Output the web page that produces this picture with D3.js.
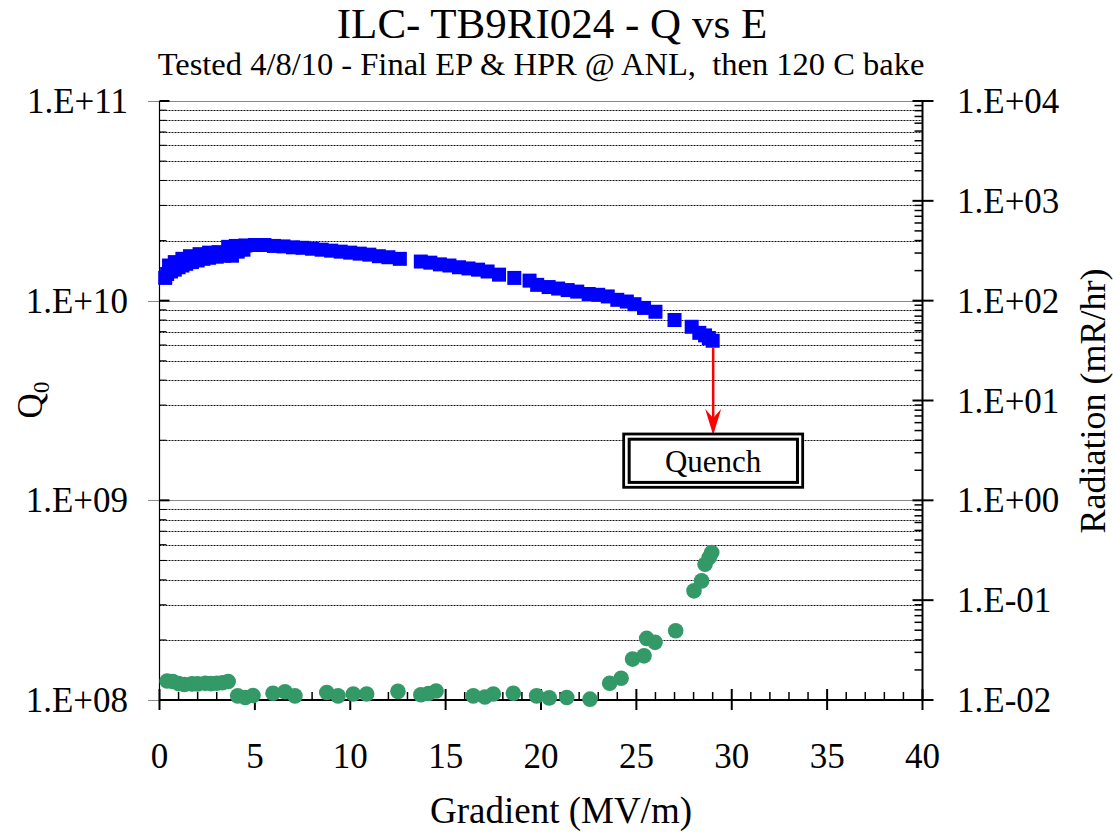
<!DOCTYPE html>
<meta charset="utf-8">
<style>

body {
  margin: 0;
  background: #fff;
}

svg {
  display: block;
  font-family: "Liberation Serif", "Times New Roman", serif;
}

.grid-minor {
  stroke: #111;
  stroke-width: 1px;
  stroke-dasharray: 2,1;
}

.grid-major {
  stroke: #888;
  stroke-width: 1px;
}

.tick-label {
  font-size: 35px;
  fill: #000;
}

</style>
<body>
<svg width="1113" height="832"></svg>
<script src="https://cdn.jsdelivr.net/npm/d3@7"></script>
<script>

// Q0 measurements (blue squares)
var qGradient = [0.3, 0.4, 0.6, 0.8, 1.0, 1.2, 1.4, 1.7, 2.0, 2.3, 2.6, 3.0, 3.4, 3.8, 4.1, 4.4,
  0.5, 0.8, 1.2, 1.6, 2.1, 2.6, 3.1, 3.6, 4.0, 4.5, 5.0, 5.5, 6.0, 6.5, 7.0, 7.5, 8.0, 8.5,
  9.0, 9.5, 10.0, 10.5, 11.0, 11.5, 12.0, 12.6, 13.7, 14.2, 14.7, 15.2, 15.7, 16.2, 16.7,
  17.2, 17.8, 18.6, 19.4, 19.8, 20.4, 20.9, 21.4, 21.9, 22.5, 23.0, 23.5, 24.0, 24.5, 24.9,
  25.4, 26.0, 27.0, 27.9, 28.3, 28.6, 28.8, 29.0];
var qValues = [1.30e10, 1.36e10, 1.40e10, 1.43e10, 1.47e10, 1.50e10, 1.53e10, 1.56e10, 1.59e10,
  1.62e10, 1.64e10, 1.66e10, 1.68e10, 1.68e10, 1.76e10, 1.80e10,
  1.50e10, 1.56e10, 1.62e10, 1.67e10, 1.71e10, 1.74e10, 1.75e10, 1.86e10, 1.88e10, 1.89e10,
  1.90e10, 1.90e10, 1.88e10, 1.87e10, 1.85e10, 1.84e10, 1.82e10, 1.80e10, 1.78e10, 1.76e10,
  1.74e10, 1.72e10, 1.70e10, 1.67e10, 1.65e10, 1.62e10, 1.57e10, 1.55e10, 1.52e10, 1.50e10,
  1.47e10, 1.45e10, 1.43e10, 1.40e10, 1.35e10, 1.30e10, 1.26e10, 1.20e10, 1.17e10, 1.15e10,
  1.13e10, 1.11e10, 1.08e10, 1.07e10, 1.05e10, 1.01e10, 9.9e9, 9.6e9, 9.2e9, 8.8e9, 8.0e9,
  7.4e9, 6.9e9, 6.7e9, 6.5e9, 6.3e9];

// radiation measurements (green circles)
var radGradient = [0.4, 0.7, 1.0, 1.3, 1.7, 2.0, 2.4, 2.7, 3.0, 3.3, 3.6, 4.1, 4.5, 4.9, 5.95,
  6.58, 7.1, 8.77, 9.36, 10.16, 10.86, 12.5, 13.7, 14.1, 14.5, 16.45, 17.06, 17.5, 18.55,
  19.77, 20.43, 21.35, 22.57, 23.6, 24.2, 24.8, 25.4, 25.54, 25.98, 27.06, 28.02, 28.42,
  28.6, 28.82, 28.95];
var radValues = [0.0155, 0.0153, 0.0146, 0.0143, 0.0145, 0.0145, 0.0147, 0.0146, 0.0147,
  0.0149, 0.0153, 0.0110, 0.0106, 0.0111, 0.0117, 0.0121, 0.0110, 0.0119, 0.0110, 0.0115,
  0.0115, 0.0122, 0.0113, 0.0116, 0.0123, 0.0110, 0.0107, 0.0115, 0.0117, 0.0110, 0.0105,
  0.0106, 0.0102, 0.0147, 0.0165, 0.0257, 0.0277, 0.0414, 0.0378, 0.0494, 0.124, 0.156,
  0.229, 0.267, 0.30];

var xTickValues = [0, 5, 10, 15, 20, 25, 30, 35, 40];
var qTickValues = [1e8, 1e9, 1e10, 1e11];
var qTickLabels = ["1.E+08", "1.E+09", "1.E+10", "1.E+11"];
var radTickValues = [1e-2, 1e-1, 1e0, 1e1, 1e2, 1e3, 1e4];
var radTickLabels = ["1.E-02", "1.E-01", "1.E+00", "1.E+01", "1.E+02", "1.E+03", "1.E+04"];

var plotLeft = 159.5, plotRight = 922.5, plotTop = 101, plotBottom = 700;

var x = d3.scaleLinear().domain([0, 40]).range([plotLeft, plotRight]);
var yQ = d3.scaleLog().domain([1e8, 1e11]).range([plotBottom, plotTop]);
var yR = d3.scaleLog().domain([1e-2, 1e4]).range([plotBottom, plotTop]);

var svg = d3.select("svg");

// titles
svg.append("text")
    .attr("x", 552).attr("y", 38)
    .attr("text-anchor", "middle")
    .style("font-size", "43px")
    .text("ILC- TB9RI024 - Q vs E");

svg.append("text")
    .attr("x", 541).attr("y", 75)
    .attr("text-anchor", "middle")
    .style("font-size", "32.5px")
    .style("white-space", "pre")
    .text("Tested 4/8/10 - Final EP & HPR @ ANL,  then 120 C bake");

// horizontal grid from the Q axis
var isMajor = function(v) { return Math.abs(Math.log10(v) - Math.round(Math.log10(v))) < 1e-9; };
var qMinor = yQ.ticks().filter(function(v) { return !isMajor(v); });

svg.append("g").selectAll("line")
    .data(qMinor)
  .enter().append("line")
    .attr("class", "grid-minor")
    .attr("x1", plotLeft).attr("x2", plotRight)
    .attr("y1", function(d) { return Math.round(yQ(d)) + 0.5; })
    .attr("y2", function(d) { return Math.round(yQ(d)) + 0.5; });

svg.append("g").selectAll("line")
    .data(qTickValues)
  .enter().append("line")
    .attr("class", "grid-major")
    .attr("x1", 148).attr("x2", plotRight)
    .attr("y1", function(d) { return Math.round(yQ(d)) + 0.5; })
    .attr("y2", function(d) { return Math.round(yQ(d)) + 0.5; });

// left axis
svg.append("line")
    .attr("x1", plotLeft).attr("x2", plotLeft)
    .attr("y1", plotTop).attr("y2", plotBottom)
    .attr("stroke", "#000").attr("stroke-width", 1.2);

svg.append("g").selectAll("line")
    .data(qMinor)
  .enter().append("line")
    .attr("x1", plotLeft).attr("x2", plotLeft + 7)
    .attr("y1", function(d) { return yQ(d); })
    .attr("y2", function(d) { return yQ(d); })
    .attr("stroke", "#000").attr("stroke-width", 1);

svg.append("g").selectAll("line")
    .data(qTickValues)
  .enter().append("line")
    .attr("x1", plotLeft).attr("x2", plotLeft + 10)
    .attr("y1", function(d) { return yQ(d); })
    .attr("y2", function(d) { return yQ(d); })
    .attr("stroke", "#000").attr("stroke-width", 2);

svg.append("g").selectAll("text")
    .data(qTickValues)
  .enter().append("text")
    .attr("class", "tick-label")
    .attr("x", 128)
    .attr("y", function(d) { return yQ(d) + 12; })
    .attr("text-anchor", "end")
    .text(function(d, i) { return qTickLabels[i]; });

// right axis (radiation)
svg.append("line")
    .attr("x1", plotRight).attr("x2", plotRight)
    .attr("y1", plotTop).attr("y2", plotBottom)
    .attr("stroke", "#000").attr("stroke-width", 2);

svg.append("g").selectAll("line")
    .data(yR.ticks().filter(function(v) { return !isMajor(v); }))
  .enter().append("line")
    .attr("x1", plotRight - 8).attr("x2", plotRight)
    .attr("y1", function(d) { return yR(d); })
    .attr("y2", function(d) { return yR(d); })
    .attr("stroke", "#000").attr("stroke-width", 1.5);

svg.append("g").selectAll("line")
    .data(radTickValues)
  .enter().append("line")
    .attr("x1", plotRight - 10).attr("x2", plotRight + 11)
    .attr("y1", function(d) { return yR(d); })
    .attr("y2", function(d) { return yR(d); })
    .attr("stroke", "#000").attr("stroke-width", 2);

svg.append("g").selectAll("text")
    .data(radTickValues)
  .enter().append("text")
    .attr("class", "tick-label")
    .attr("x", 957)
    .attr("y", function(d) { return yR(d) + 12; })
    .text(function(d, i) { return radTickLabels[i]; });

// x axis
svg.append("line")
    .attr("x1", plotLeft).attr("x2", plotRight)
    .attr("y1", plotBottom).attr("y2", plotBottom)
    .attr("stroke", "#000").attr("stroke-width", 2);

svg.append("g").selectAll("line")
    .data(d3.range(1, 40).filter(function(v) { return v % 5 != 0; }))
  .enter().append("line")
    .attr("x1", function(d) { return x(d); })
    .attr("x2", function(d) { return x(d); })
    .attr("y1", plotBottom - 8).attr("y2", plotBottom)
    .attr("stroke", "#000").attr("stroke-width", 1.5);

svg.append("g").selectAll("line")
    .data(xTickValues)
  .enter().append("line")
    .attr("x1", function(d) { return x(d); })
    .attr("x2", function(d) { return x(d); })
    .attr("y1", plotBottom - 11).attr("y2", plotBottom + 10)
    .attr("stroke", "#000").attr("stroke-width", 2);

svg.append("g").selectAll("text")
    .data(xTickValues)
  .enter().append("text")
    .attr("class", "tick-label")
    .attr("x", function(d) { return x(d); })
    .attr("y", 768)
    .attr("text-anchor", "middle")
    .text(function(d) { return d; });

// axis titles
svg.append("text")
    .attr("x", 561).attr("y", 823)
    .attr("text-anchor", "middle")
    .style("font-size", "37px")
    .text("Gradient (MV/m)");

var qTitle = svg.append("text")
    .attr("transform", "translate(42,400) rotate(-90)")
    .attr("text-anchor", "middle")
    .style("font-size", "35px");
qTitle.append("tspan").text("Q");
qTitle.append("tspan").attr("dy", 7).style("font-size", "23px").text("0");

svg.append("text")
    .attr("transform", "translate(1105,401) rotate(-90)")
    .attr("text-anchor", "middle")
    .style("font-size", "36px")
    .text("Radiation (mR/hr)");

// Q0 squares
var qData = qGradient.map(function(e, i) { return {e: e, q: qValues[i]}; });
svg.append("g").selectAll("rect")
    .data(qData)
  .enter().append("rect")
    .attr("x", function(d) { return x(d.e) - 7; })
    .attr("y", function(d) { return yQ(d.q) - 7; })
    .attr("width", 14)
    .attr("height", 14)
    .attr("fill", "#0000ff");

// radiation circles
var radData = radGradient.map(function(e, i) { return {e: e, r: radValues[i]}; });
svg.append("g").selectAll("circle")
    .data(radData)
  .enter().append("circle")
    .attr("cx", function(d) { return x(d.e); })
    .attr("cy", function(d) { return yR(d.r); })
    .attr("r", 7.8)
    .attr("fill", "#339966");

// quench annotation
var last = qData[qData.length - 1];
var ax = x(last.e) + 0.5, ay = yQ(last.q) + 7, tipY = 435;

svg.append("line")
    .attr("x1", ax).attr("x2", ax)
    .attr("y1", ay).attr("y2", tipY - 14)
    .attr("stroke", "#ff0000").attr("stroke-width", 2.5);

svg.append("path")
    .attr("d", "M" + ax + "," + tipY + "L" + (ax - 8) + "," + (tipY - 26)
      + "L" + ax + "," + (tipY - 17) + "L" + (ax + 8) + "," + (tipY - 26) + "Z")
    .attr("fill", "#ff0000");

svg.append("rect")
    .attr("x", ax - 89.5).attr("y", 434)
    .attr("width", 179).attr("height", 53.3)
    .attr("fill", "#fff")
    .attr("stroke", "#000").attr("stroke-width", 2.8);

svg.append("rect")
    .attr("x", ax - 84).attr("y", 439.2)
    .attr("width", 168.3).attr("height", 43.2)
    .attr("fill", "none")
    .attr("stroke", "#000").attr("stroke-width", 3);

svg.append("text")
    .attr("x", ax).attr("y", 472)
    .attr("text-anchor", "middle")
    .style("font-size", "31px")
    .text("Quench");

</script>
